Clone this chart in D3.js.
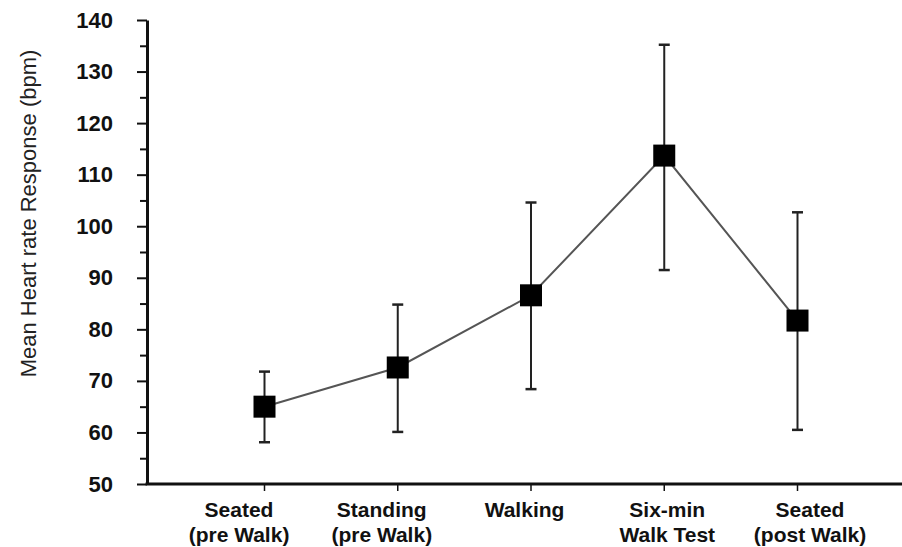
<!DOCTYPE html>
<html>
<head>
<meta charset="utf-8">
<script src="https://cdn.jsdelivr.net/npm/d3@7"></script>
<style>
  html, body { margin: 0; padding: 0; background: #fff; }
  svg { display: block; font-family: "Liberation Sans", Arial, sans-serif; }
</style>
</head>
<body>
<svg id="chart" width="902" height="547"></svg>
<script>
// ---- data ----
const categories = ["Seated|(pre Walk)", "Standing|(pre Walk)", "Walking", "Six-min|Walk Test", "Seated|(post Walk)"];
const means = [65.0, 72.6, 86.6, 113.7, 81.7];
const errLow = [58.1, 60.1, 68.4, 91.5, 60.5];
const errHigh = [71.8, 84.8, 104.6, 135.2, 102.7];
const yTicks = [50, 60, 70, 80, 90, 100, 110, 120, 130, 140];
const yMinorTicks = [55, 65, 75, 85, 95, 105, 115, 125, 135];
const yTitle = "Mean Heart rate Response (bpm)";

const data = categories.map((c, i) => ({ cat: c, mean: means[i], lo: errLow[i], hi: errHigh[i] }));

// ---- layout ----
const W = 902, H = 547;
const axisX = 147, axisY = 484;
const svg = d3.select("#chart");

const y = d3.scaleLinear().domain([50, 140]).range([484, 20]);
const x = d3.scalePoint().domain(categories).range([264.5, 797.5]);
const xLabel = d3.scalePoint().domain(categories).range([239, 810]);

// y axis
const yAxis = d3.axisLeft(y).tickValues(yTicks).tickSize(10).tickSizeOuter(0).tickPadding(24)
  .tickFormat(d3.format("d"));
const gy = svg.append("g").attr("transform", `translate(${axisX},0)`).call(yAxis);
gy.select(".domain").attr("stroke", "#111").attr("stroke-width", 3);
gy.selectAll(".tick line").attr("stroke", "#111").attr("stroke-width", 2);
gy.selectAll(".tick text")
  .attr("font-size", 22).attr("font-weight", "bold").attr("fill", "#111")
  .attr("font-family", "'Liberation Sans', Arial, sans-serif");

const yMinor = d3.axisLeft(y).tickValues(yMinorTicks).tickSize(7).tickFormat("");
const gym = svg.append("g").attr("transform", `translate(${axisX},0)`).call(yMinor);
gym.select(".domain").remove();
gym.selectAll(".tick line").attr("stroke", "#111").attr("stroke-width", 2);

// x axis
svg.append("line")
  .attr("x1", axisX - 1.5).attr("x2", W).attr("y1", axisY).attr("y2", axisY)
  .attr("stroke", "#111").attr("stroke-width", 3);
svg.append("g").selectAll("line").data(categories).join("line")
  .attr("x1", d => x(d)).attr("x2", d => x(d))
  .attr("y1", axisY).attr("y2", axisY + 7)
  .attr("stroke", "#111").attr("stroke-width", 1.5);

// x labels
const lbl = svg.append("g").selectAll("text").data(categories).join("text")
  .attr("text-anchor", "middle").attr("font-size", 21).attr("font-weight", "bold")
  .attr("fill", "#111")
  .attr("transform", d => `translate(${xLabel(d)},0)`);
lbl.selectAll("tspan").data(d => d.split("|")).join("tspan")
  .attr("x", 0).attr("y", (d, i) => 517 + i * 25).text(d => d);

// y title
svg.append("text")
  .attr("transform", `translate(35.5,${213.5}) rotate(-90)`)
  .attr("text-anchor", "middle").attr("font-size", 22).attr("fill", "#222")
  .text(yTitle);

// connecting line
svg.append("path").datum(data)
  .attr("fill", "none").attr("stroke", "#555").attr("stroke-width", 2)
  .attr("d", d3.line().x(d => x(d.cat)).y(d => y(d.mean)));

// error bars
const eb = svg.append("g").selectAll("g").data(data).join("g");
eb.append("line")
  .attr("x1", d => x(d.cat)).attr("x2", d => x(d.cat))
  .attr("y1", d => y(d.lo)).attr("y2", d => y(d.hi))
  .attr("stroke", "#222").attr("stroke-width", 2);
eb.append("line")
  .attr("x1", d => x(d.cat) - 5.5).attr("x2", d => x(d.cat) + 5.5)
  .attr("y1", d => y(d.hi)).attr("y2", d => y(d.hi))
  .attr("stroke", "#222").attr("stroke-width", 2.5);
eb.append("line")
  .attr("x1", d => x(d.cat) - 5.5).attr("x2", d => x(d.cat) + 5.5)
  .attr("y1", d => y(d.lo)).attr("y2", d => y(d.lo))
  .attr("stroke", "#222").attr("stroke-width", 2.5);

// markers
const ms = 22;
svg.append("g").selectAll("rect").data(data).join("rect")
  .attr("x", d => x(d.cat) - ms / 2).attr("y", d => y(d.mean) - ms / 2)
  .attr("width", ms).attr("height", ms).attr("fill", "#000");
</script>
</body>
</html>
